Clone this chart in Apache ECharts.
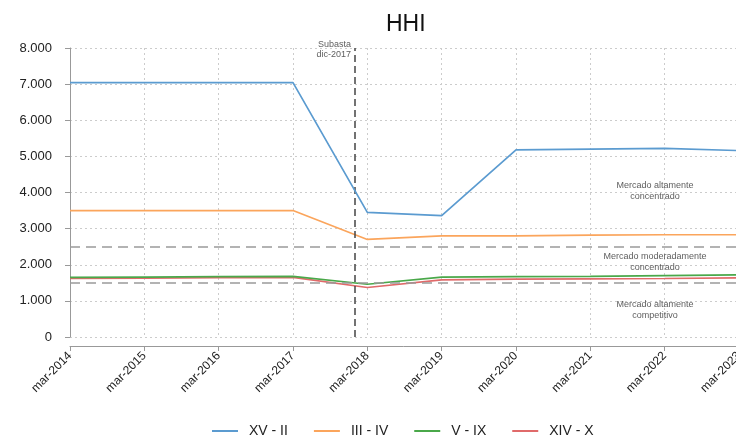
<!DOCTYPE html>
<html>
<head>
<meta charset="utf-8">
<script src="https://cdn.jsdelivr.net/npm/echarts@6/dist/echarts.min.js"></script>
<style>
    html, body { margin: 0; padding: 0; background: #fff; }
    #chart { width: 736px; height: 437px; }
</style>
</head>
<body>
<div id="chart"></div>
<script>
// tick labels on the x axis (one per year, March)
const tickLabels = ['mar-2014', 'mar-2015', 'mar-2016', 'mar-2017', 'mar-2018', 'mar-2019', 'mar-2020', 'mar-2021', 'mar-2022', 'mar-2023'];
const seriesNames = ['XV - II', 'III - IV', 'V - IX', 'XIV - X'];
const colors = ['#5b9bd0', '#fba55c', '#4aa84a', '#e06a6a'];

// HHI values, one per tick
const xvII = [7040, 7040, 7040, 7040, 3450, 3360, 5180, 5200, 5220, 5160];
const iiiIV = [3500, 3500, 3500, 3500, 2700, 2800, 2800, 2820, 2830, 2830];
const vIX = [1650, 1660, 1670, 1680, 1460, 1660, 1670, 1680, 1700, 1720];
const xivX = [1620, 1630, 1640, 1650, 1370, 1580, 1600, 1610, 1620, 1640];

// reference lines
const thresholds = [2500, 1500];
const auctionX = 3.83; // subasta dic-2017
const annotations = [
    { x: 7.87, y: 4050, text: 'Mercado altamente\nconcentrado' },
    { x: 7.87, y: 2080, text: 'Mercado moderadamente\nconcentrado' },
    { x: 7.87, y: 760, text: 'Mercado altamente\ncompetitivo' },
];

const allValues = [xvII, iiiIV, vIX, xivX];

function fmtThousands(v) {
    return String(v).replace(/\B(?=(\d{3})+(?!\d))/g, '.');
}

const chart = echarts.init(document.getElementById('chart'));

const series = allValues.map((vals, idx) => ({
    name: seriesNames[idx],
    type: 'line',
    data: vals.map((v, i) => [i, v]),
    showSymbol: false,
    lineStyle: { width: 1.7, color: colors[idx] },
    itemStyle: { color: colors[idx] },
    z: 5 - idx,
}));

// dashed reference lines on the first series
series[0].markLine = {
    silent: true,
    symbol: 'none',
    label: { show: false },
    data: [
        ...thresholds.map((t) => ({ yAxis: t, lineStyle: { color: '#9a9a9a', type: [10, 6], width: 1.5 } })),
        { xAxis: auctionX, lineStyle: { color: '#444', type: [7, 4], width: 1.5 } },
    ],
};

series.push({
    name: 'notes',
    type: 'scatter',
    symbolSize: 0,
    silent: true,
    clip: false,
    data: annotations.map((a) => ({ value: [a.x, a.y], label: { formatter: a.text } })),
    label: {
        show: true,
        position: 'inside',
        color: '#333',
        fontSize: 9,
        lineHeight: 11,
        align: 'center',
        fontFamily: 'Liberation Sans, Arial, sans-serif',
    },
});

series.push({
    name: 'subasta',
    type: 'scatter',
    symbolSize: 0,
    silent: true,
    clip: false,
    data: [{ value: [auctionX - 0.05, 7950] }],
    label: {
        show: true,
        position: 'inside',
        formatter: 'Subasta\ndic-2017',
        color: '#333',
        fontSize: 9,
        lineHeight: 10,
        align: 'right',
        fontFamily: 'Liberation Sans, Arial, sans-serif',
    },
});

const option = {
    animation: false,
    textStyle: { fontFamily: 'Liberation Sans, Arial, sans-serif' },
    title: {
        text: 'HHI',
        left: 381,
        top: 8,
        textStyle: { fontSize: 23, fontWeight: 'normal', color: '#111' },
    },
    grid: { left: 70, right: -3, top: 48, bottom: 100, outerBoundsMode: 'none' },
    legend: {
        data: seriesNames,
        top: 419,
        left: 207,
        icon: 'rect',
        itemWidth: 26,
        itemHeight: 2,
        itemGap: 26,
        textStyle: { fontSize: 14, color: '#222', padding: [0, 0, 0, 6] },
        inactiveColor: '#ccc',
    },
    xAxis: {
        type: 'value',
        min: 0,
        max: 9,
        interval: 1,
        offset: 9,
        axisLine: { show: true, onZero: false, lineStyle: { color: '#999' } },
        axisTick: { show: true, length: 5, lineStyle: { color: '#999' } },
        axisLabel: {
            rotate: 45,
            fontSize: 12,
            color: '#222',
            margin: 8,
            formatter: (v) => tickLabels[v] || '',
        },
        splitLine: { show: true, lineStyle: { color: '#ccc', type: [2, 3] } },
    },
    yAxis: {
        type: 'value',
        min: 0,
        max: 8000,
        interval: 1000,
        offset: 12,
        axisLine: { show: true, lineStyle: { color: '#999' } },
        axisTick: { show: true, length: 5, lineStyle: { color: '#999' } },
        axisLabel: { fontSize: 13, color: '#222', margin: 6, formatter: fmtThousands },
        splitLine: { show: true, lineStyle: { color: '#ccc', type: [2, 3] } },
    },
    series: series,
};

chart.setOption(option);
</script>
</body>
</html>
